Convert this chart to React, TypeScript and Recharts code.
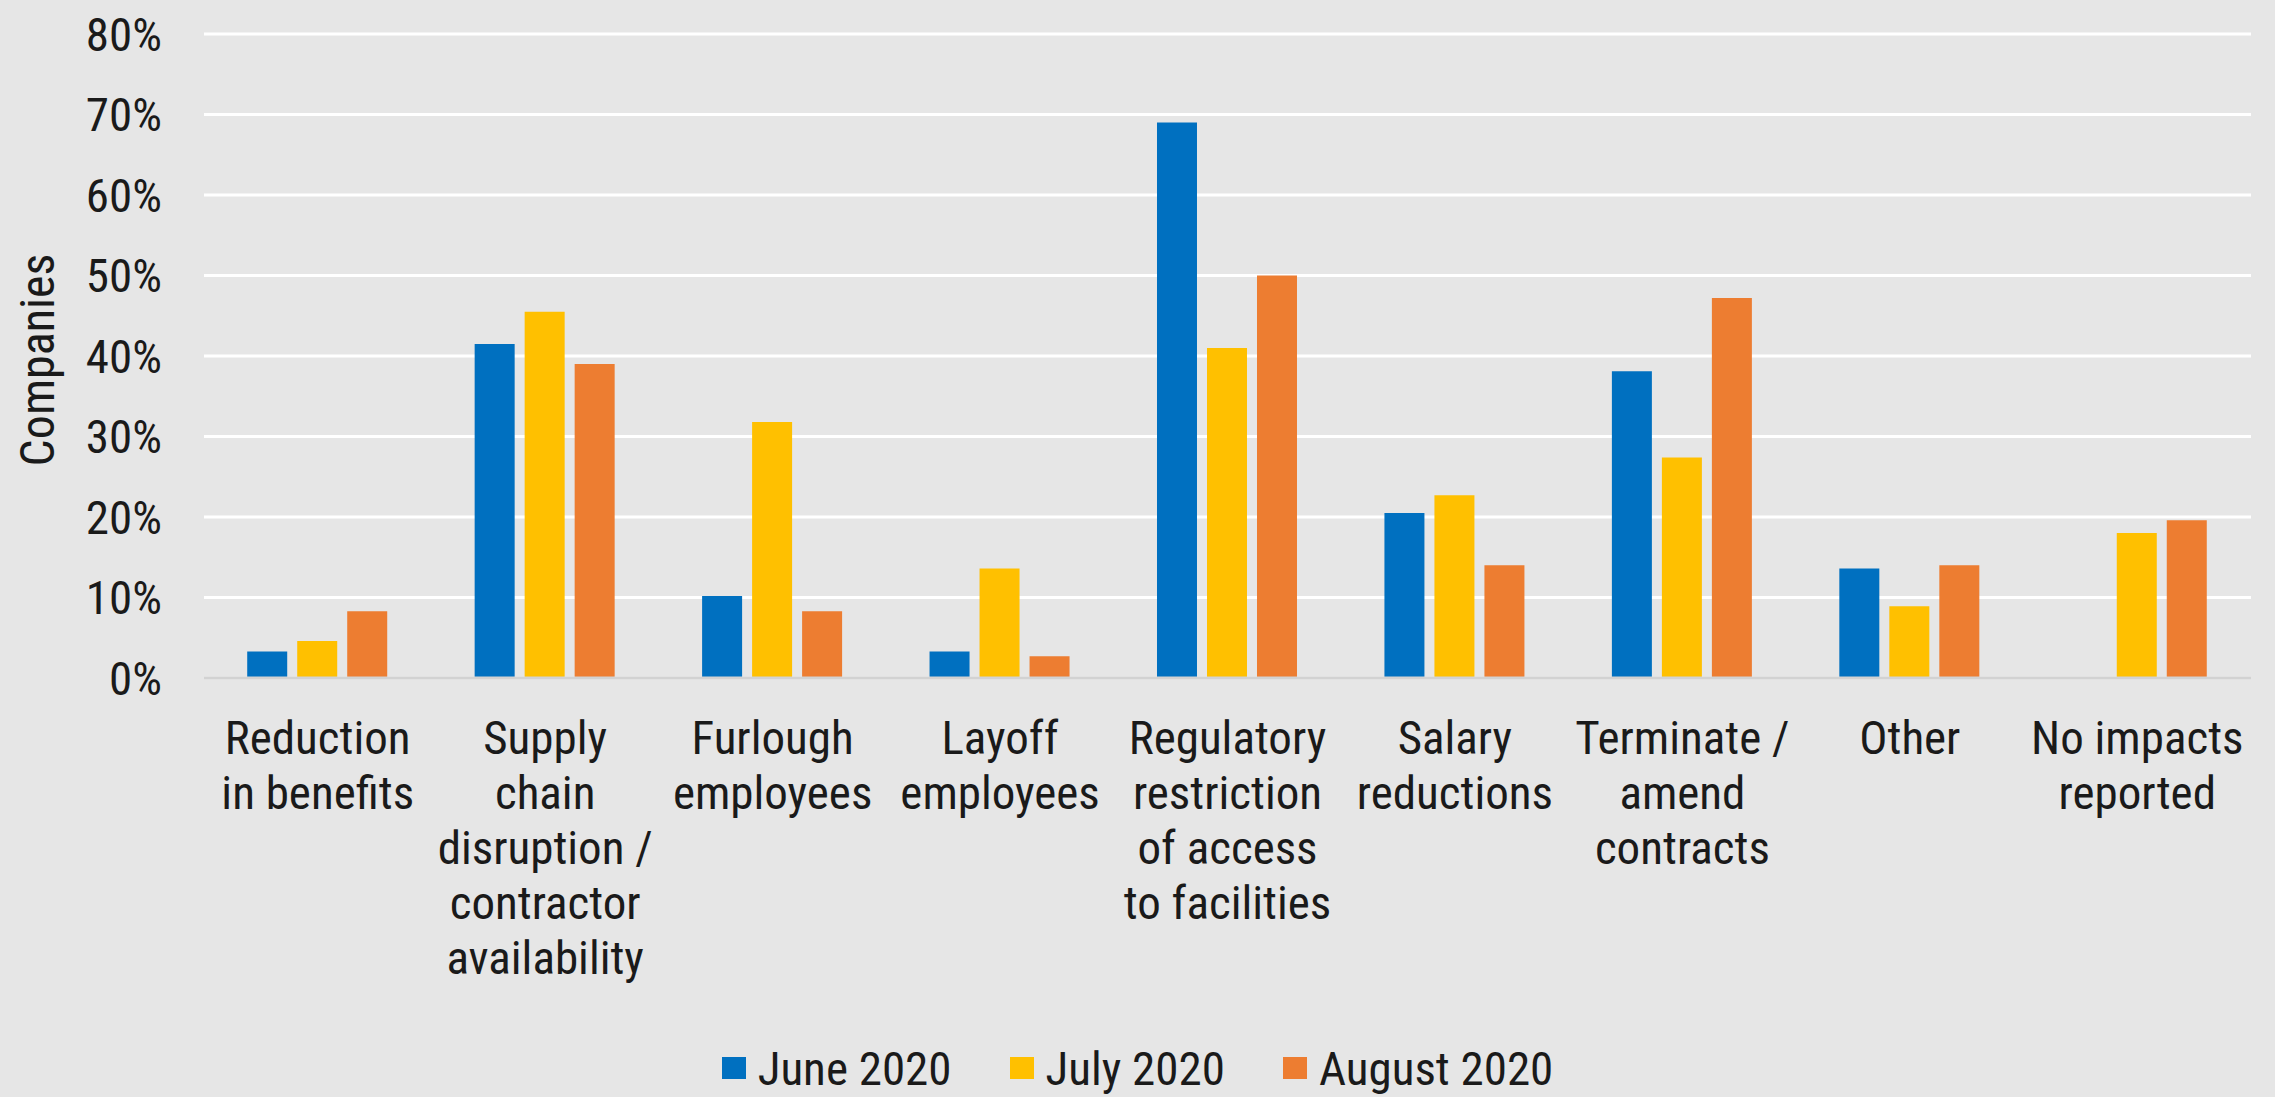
import React from "react";
import { BarChart, Bar, XAxis, YAxis, CartesianGrid, Legend, Label } from "recharts";

const categories = [
  "Reduction\nin benefits",
  "Supply\nchain\ndisruption /\ncontractor\navailability",
  "Furlough\nemployees",
  "Layoff\nemployees",
  "Regulatory\nrestriction\nof access\nto facilities",
  "Salary\nreductions",
  "Terminate /\namend\ncontracts",
  "Other",
  "No impacts\nreported",
];

const june2020 = [3.3, 41.5, 10.2, 3.3, 69, 20.5, 38.1, 13.6, 0];
const july2020 = [4.6, 45.5, 31.8, 13.6, 41, 22.7, 27.4, 8.9, 18];
const august2020 = [8.3, 39, 8.3, 2.7, 50, 14, 47.2, 14, 19.6];

const yTicks = [0, 10, 20, 30, 40, 50, 60, 70, 80];

const series = [
  { key: "june", name: "June 2020", color: "#0070C0" },
  { key: "july", name: "July 2020", color: "#FFC000" },
  { key: "august", name: "August 2020", color: "#ED7D31" },
];

const FONT = '"Roboto Condensed", "Liberation Sans Narrow", Roboto, sans-serif';
const FONT_SIZE = 47;
const TEXT = "#1a1a1a";

const data = categories.map((category, i) => ({
  category,
  june: june2020[i],
  july: july2020[i],
  august: august2020[i],
}));

function CategoryTick({ x, y, payload }: any) {
  const lines = String(payload.value).split("\n");
  return (
    <text x={x} y={y} textAnchor="middle" fill={TEXT} fontFamily={FONT} fontSize={FONT_SIZE}>
      {lines.map((line, i) => (
        <tspan key={i} x={x} dy={i === 0 ? 76 : 55}>
          {line}
        </tspan>
      ))}
    </text>
  );
}

function LegendContent() {
  return (
    <div
      style={{
        height: 56,
        paddingLeft: 24,
        display: "flex",
        alignItems: "center",
        justifyContent: "center",
        gap: 58,
        fontFamily: FONT,
        fontSize: FONT_SIZE,
        color: TEXT,
      }}
    >
      {series.map((s) => (
        <div key={s.key} style={{ display: "flex", alignItems: "center", gap: 12 }}>
          <span style={{ width: 24, height: 22, background: s.color, display: "inline-block" }} />
          <span>{s.name}</span>
        </div>
      ))}
    </div>
  );
}

export default function App() {
  return (
    <div style={{ position: "absolute", left: 0, top: 0, width: 2275, height: 1097, background: "#e6e6e6" }}>
      <BarChart
        width={2275}
        height={1097}
        data={data}
        margin={{ top: 34, right: 24, bottom: 1, left: 0 }}
        barCategoryGap="19%"
        barGap={10}
      >
        <CartesianGrid vertical={false} stroke="#ffffff" strokeWidth={3} />
        <XAxis
          dataKey="category"
          interval={0}
          height={362}
          tickLine={false}
          tickSize={0}
          tickMargin={0}
          axisLine={{ stroke: "#d2d2d2", strokeWidth: 3 }}
          tick={<CategoryTick />}
        />
        <YAxis
          width={204}
          domain={[0, 80]}
          ticks={yTicks}
          tickFormatter={(v) => `${v}%`}
          axisLine={false}
          tickLine={false}
          tickSize={0}
          tickMargin={42}
          tick={{ fill: TEXT, fontFamily: FONT, fontSize: FONT_SIZE }}
        >
          <Label
            value="Companies"
            angle={-90}
            position="insideLeft"
            offset={0}
            dx={37}
            dy={4}
            style={{ fill: TEXT, fontFamily: FONT, fontSize: 48, textAnchor: "middle" }}
          />
        </YAxis>
        <Legend verticalAlign="bottom" content={<LegendContent />} />
        {series.map((s) => (
          <Bar key={s.key} dataKey={s.key} name={s.name} fill={s.color} isAnimationActive={false} />
        ))}
      </BarChart>
    </div>
  );
}
